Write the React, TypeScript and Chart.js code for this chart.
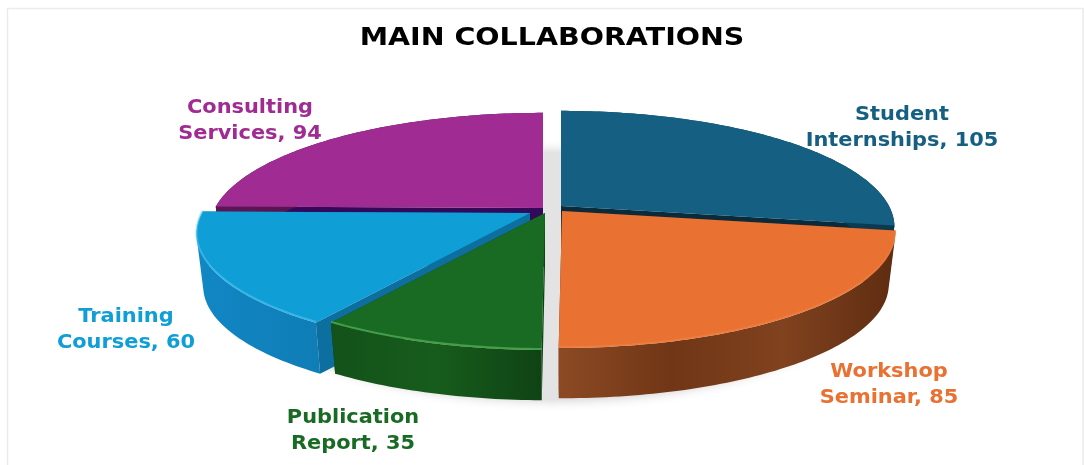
import React, { useEffect, useRef } from "react";
import { Chart, registerables } from "chart.js";

Chart.register(...registerables);

const chartTitle = "MAIN COLLABORATIONS";
const categories = ["Student Internships", "Workshop Seminar", "Publication Report", "Training Courses", "Consulting Services"];
const collaborationCounts = [105, 85, 35, 60, 94];
const sliceColors = ["#156082", "#E97132", "#196B24", "#0F9ED5", "#A02B93"];

// Painter's order for the extruded slices, rear to front.
const paintOrder = [4, 0, 3, 1, 2];

// Projection of the tilted disc.
const RADIUS_X = 328;
const RADIUS_Y = 112.3;
const PERSPECTIVE = 0.18;
const BASE_SCALE = 0.98;
const BASE_DROP = 53;
const HUB_X = 545;
const HUB_Y = 211;

// The headings use a slightly extended letterform.
const TITLE_STRETCH = 1.14;
const TITLE_CENTER_X = 552;
const LABEL_STRETCH = 1.1;

// Per-slice styling: explosion shift, wall shades, rim highlight, label anchor.
const sliceStyle = [
  { dx: 16, dy: -5, cut: "#0a2b3c", wall: ["#0e465f", "#0b3a50"], rim: "rgba(0,0,0,0)", lx: 902, ly: 115 },
  { dx: 17, dy: 0, cut: "#5c2a10", wall: ["#8c4a24", "#703616", "#80421f", "#5f2c11"], rim: "rgba(255,170,110,0.2)", lx: 889, ly: 372 },
  { dx: 0, dy: 2, cut: "#0f4213", wall: ["#13521a", "#175c1c", "#0f4314"], rim: "rgba(110,210,110,0.5)", lx: 353, ly: 418 },
  { dx: -15, dy: 2, cut: "#0c6f9f", wall: ["#1187c4", "#0f7db6"], rim: "rgba(90,200,245,0.55)", lx: 126, ly: 317 },
  { dx: -2, dy: -3, cut: "#33095a", wall: ["#5c1654", "#4a1044"], rim: "rgba(0,0,0,0)", lx: 250, ly: 108 },
];

type Pt = [number, number];

function project(ox: number, oy: number, theta: number, base: boolean): Pt {
  const gx = Math.sin(theta);
  const gy = -Math.cos(theta);
  const s = (1 / (1 - PERSPECTIVE * gy)) * (base ? BASE_SCALE : 1);
  return [ox + RADIUS_X * gx * s, oy + RADIUS_Y * gy * s + (base ? BASE_DROP : 0)];
}

function rimPoints(ox: number, oy: number, a0: number, a1: number, base: boolean): Pt[] {
  const steps = Math.max(2, Math.ceil(((a1 - a0) * 180) / Math.PI));
  const pts: Pt[] = [];
  for (let i = 0; i <= steps; i++) pts.push(project(ox, oy, a0 + ((a1 - a0) * i) / steps, base));
  return pts;
}

function fillPoly(ctx: CanvasRenderingContext2D, pts: Pt[], fill: string | CanvasGradient) {
  ctx.beginPath();
  pts.forEach((p, i) => (i ? ctx.lineTo(p[0], p[1]) : ctx.moveTo(p[0], p[1])));
  ctx.closePath();
  ctx.fillStyle = fill;
  ctx.fill();
}

function signedArea(pts: Pt[]): number {
  let a = 0;
  pts.forEach((p, i) => {
    const q = pts[(i + 1) % pts.length];
    a += p[0] * q[1] - q[0] * p[1];
  });
  return a;
}

const extrudedPie = {
  id: "extrudedPie",
  beforeDraw(chart: any) {
    const { ctx } = chart;
    ctx.save();
    ctx.strokeStyle = "#ececec";
    ctx.lineWidth = 1.5;
    ctx.beginPath();
    ctx.moveTo(7.5, 465);
    ctx.lineTo(7.5, 8.5);
    ctx.lineTo(1083, 8.5);
    ctx.lineTo(1083, 465);
    ctx.stroke();
    ctx.restore();
    // Widen the title, which the title plugin draws right after this hook.
    ctx.save();
    ctx.translate(TITLE_CENTER_X, 0);
    ctx.scale(TITLE_STRETCH, 1);
    ctx.translate(-TITLE_CENTER_X, 0);
  },
  beforeDatasetsDraw(chart: any) {
    const { ctx } = chart;
    const arcs = chart.getDatasetMeta(0).data;
    ctx.restore();
    ctx.save();

    // Soft floor shadow beneath the whole pie.
    ctx.shadowColor = "rgba(0,0,0,0.22)";
    ctx.shadowBlur = 12;
    ctx.fillStyle = "#e3e3e3";
    ctx.beginPath();
    ctx.ellipse(552, 276, 322, 124, 0, 0, Math.PI * 2);
    ctx.fill();
    ctx.shadowColor = "transparent";
    ctx.shadowBlur = 0;

    for (const i of paintOrder) {
      const arc = arcs[i];
      const st = sliceStyle[i];
      const a0 = arc.startAngle + Math.PI / 2;
      const a1 = arc.endAngle + Math.PI / 2;
      const ox = HUB_X + st.dx;
      const oy = HUB_Y + st.dy;
      const top = rimPoints(ox, oy, a0, a1, false);
      const bottom = rimPoints(ox, oy, a0, a1, true);
      const apexTop: Pt = [ox, oy];
      const apexBottom: Pt = [ox, oy + BASE_DROP];

      // Cut faces along the two radial edges.
      fillPoly(ctx, [apexTop, top[0], bottom[0], apexBottom], st.cut);
      fillPoly(ctx, [apexTop, top[top.length - 1], bottom[bottom.length - 1], apexBottom], st.cut);

      // Curved outer wall: one path of same-winding facets keeps the silhouette continuous.
      const xs = top.concat(bottom).map((p) => p[0]);
      const grad = ctx.createLinearGradient(Math.min(...xs), 0, Math.max(...xs), 0);
      st.wall.forEach((c, k) => grad.addColorStop(k / (st.wall.length - 1), c));
      ctx.beginPath();
      for (let k = 0; k < top.length - 1; k++) {
        let quad: Pt[] = [top[k], top[k + 1], bottom[k + 1], bottom[k]];
        if (signedArea(quad) < 0) quad = quad.reverse();
        quad.forEach((p, n) => (n ? ctx.lineTo(p[0], p[1]) : ctx.moveTo(p[0], p[1])));
        ctx.closePath();
      }
      ctx.fillStyle = grad;
      ctx.fill();

      // Top face.
      fillPoly(ctx, [apexTop, ...top], arc.options.backgroundColor);

      // Light bevel along the front of the rim.
      ctx.strokeStyle = st.rim;
      ctx.lineWidth = 2;
      ctx.beginPath();
      top.forEach((p, k) => (k ? ctx.lineTo(p[0], p[1] - 1) : ctx.moveTo(p[0], p[1] - 1)));
      ctx.stroke();
    }
    ctx.restore();
    return false;
  },
  afterDraw(chart: any) {
    const { ctx } = chart;
    ctx.save();
    ctx.textAlign = "center";
    ctx.textBaseline = "middle";
    ctx.font = 'bold 19px "DejaVu Sans"';
    const drawLine = (text: string, x: number, y: number) => {
      ctx.save();
      ctx.translate(x, y);
      ctx.scale(LABEL_STRETCH, 1);
      ctx.fillText(text, 0, 0);
      ctx.restore();
    };
    categories.forEach((name, i) => {
      const cut = name.indexOf(" ");
      const st = sliceStyle[i];
      ctx.fillStyle = sliceColors[i];
      drawLine(name.slice(0, cut), st.lx, st.ly);
      drawLine(`${name.slice(cut + 1)}, ${collaborationCounts[i]}`, st.lx, st.ly + 26.5);
    });
    ctx.restore();
  },
};

export default function App() {
  const ref = useRef<HTMLCanvasElement>(null);
  useEffect(() => {
    const chart = new Chart(ref.current!, {
      type: "pie",
      data: {
        labels: categories,
        datasets: [{ data: collaborationCounts, backgroundColor: sliceColors, borderWidth: 0 }],
      },
      options: {
        responsive: false,
        animation: false,
        rotation: 0,
        layout: { padding: { left: 20, top: 0, right: 0, bottom: 0 } },
        plugins: {
          legend: { display: false },
          tooltip: { enabled: false },
          title: {
            display: true,
            text: chartTitle,
            color: "#000000",
            font: { family: '"DejaVu Sans"', size: 25, weight: "bold" },
            padding: { top: 23, bottom: 10 },
          },
        },
      },
      plugins: [extrudedPie],
    } as any);
    return () => chart.destroy();
  }, []);
  return (
    <div style={{ position: "absolute", left: 0, top: 0, width: 1084, height: 465, overflow: "hidden", background: "#fff" }}>
      <canvas ref={ref} width={1084} height={465} style={{ display: "block" }} />
    </div>
  );
}
